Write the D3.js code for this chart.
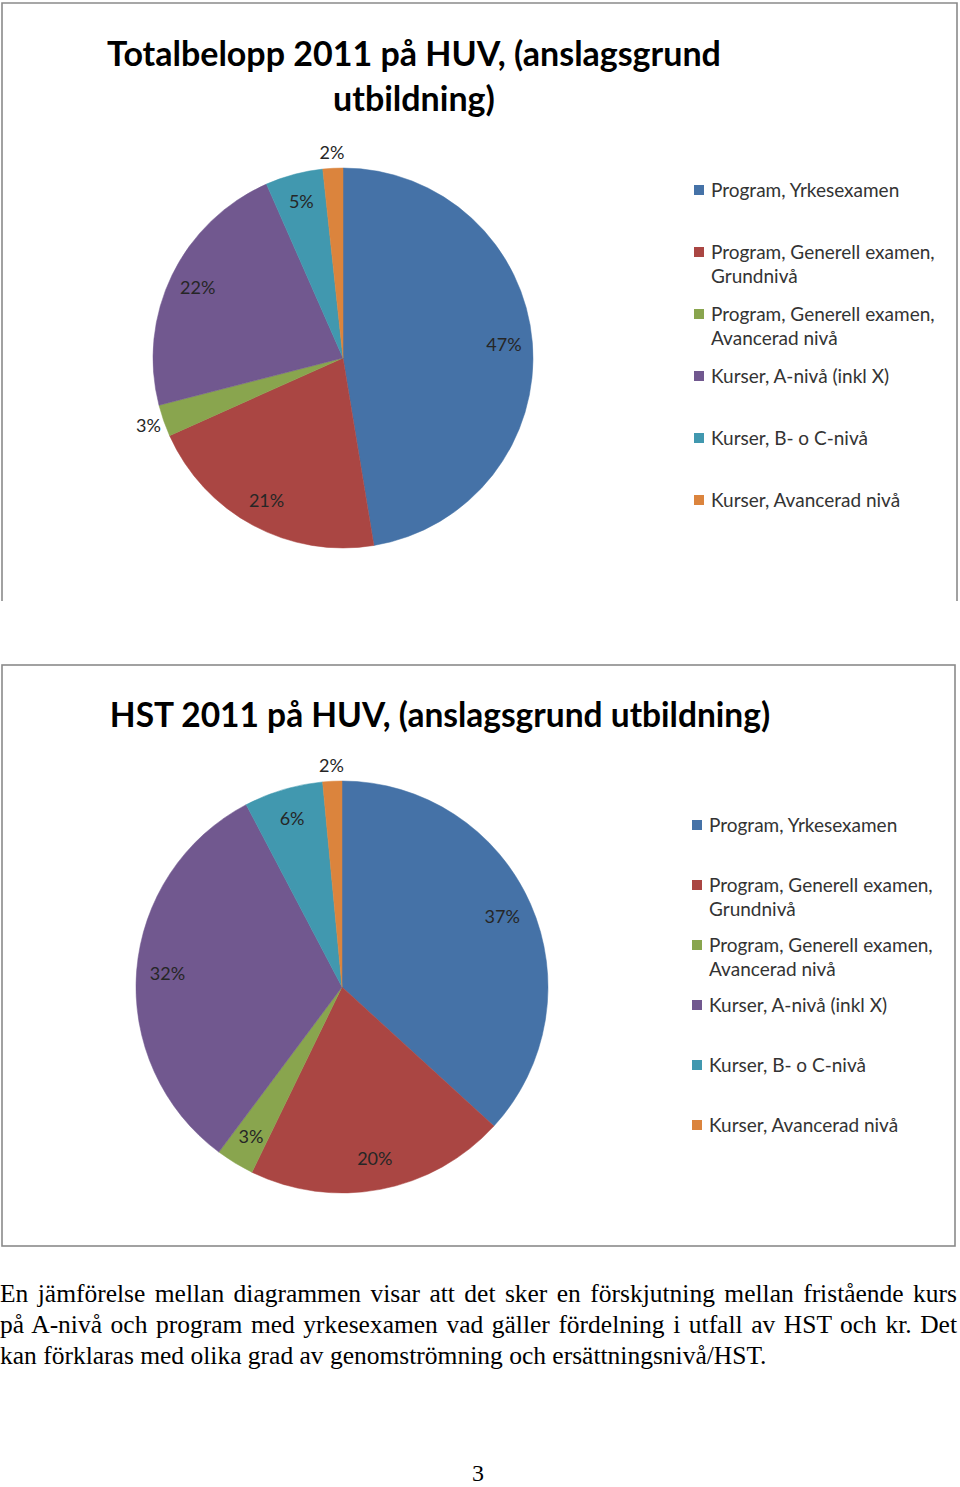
<!DOCTYPE html>
<html>
<head>
<meta charset="utf-8">
<script src="https://cdn.jsdelivr.net/npm/d3@7"></script>
<style>
  html, body { margin: 0; padding: 0; background: #fff; }
  svg { display: block; }
</style>
</head>
<body>
<svg id="page"></svg>
<script>
// Chart data (shares in percent)
const categories = [
  'Program, Yrkesexamen',
  'Program, Generell examen, Grundnivå',
  'Program, Generell examen, Avancerad nivå',
  'Kurser, A-nivå (inkl X)',
  'Kurser, B- o C-nivå',
  'Kurser, Avancerad nivå'
];
const totalShares = [47.4, 20.9, 2.7, 22.4, 4.9, 1.7];
const hstShares = [36.8, 20.4, 3.0, 32.1, 6.2, 1.5];
const sliceColors = ['#4572A7', '#AA4643', '#89A54E', '#71588F', '#4198AF', '#DB843D'];

const paragraphLines = [
  'En jämförelse mellan diagrammen visar att det sker en förskjutning mellan fristående kurs',
  'på A-nivå och program med yrkesexamen vad gäller fördelning i utfall av HST och kr. Det',
  'kan förklaras med olika grad av genomströmning och ersättningsnivå/HST.'
];
const pageNumber = '3';

const W = 960, H = 1487;
const chartFont = 'Lato, "Open Sans", sans-serif';

const svg = d3.select('#page')
  .attr('width', W)
  .attr('height', H);

const color = d3.scaleOrdinal()
  .domain(categories)
  .range(sliceColors);

// wrap a string into lines no wider than maxWidth
function wrapLines(g, str, maxWidth, fontSize) {
  const probe = g.append('text')
    .style('font-family', chartFont)
    .style('font-size', fontSize + 'px');
  const words = str.split(' ');
  const lines = [];
  let line = [];
  words.forEach(w => {
    const test = line.concat([w]).join(' ');
    probe.text(test);
    if (probe.node().getComputedTextLength() > maxWidth && line.length) {
      lines.push(line.join(' '));
      line = [w];
    } else {
      line.push(w);
    }
  });
  lines.push(line.join(' '));
  probe.remove();
  return lines;
}

function drawPie(cfg) {
  const g = svg.append('g');

  // frame
  if (cfg.openBottom) {
    g.append('path')
      .attr('d', `M${cfg.box.x},${cfg.box.y + cfg.box.h} V${cfg.box.y} H${cfg.box.x + cfg.box.w} V${cfg.box.y + cfg.box.h}`)
      .attr('fill', 'none')
      .attr('stroke', '#8a8a8a')
      .attr('stroke-width', 1.6);
  } else {
    g.append('rect')
      .attr('x', cfg.box.x)
      .attr('y', cfg.box.y)
      .attr('width', cfg.box.w)
      .attr('height', cfg.box.h)
      .attr('fill', 'none')
      .attr('stroke', '#8a8a8a')
      .attr('stroke-width', 1.6);
  }

  // title
  const title = g.append('text')
    .attr('text-anchor', 'middle')
    .style('font-family', chartFont)
    .style('font-weight', 700)
    .style('font-size', cfg.titleSize + 'px')
    .attr('fill', '#000');
  cfg.title.forEach((t, i) => {
    title.append('tspan')
      .attr('x', cfg.titleX)
      .attr('y', cfg.titleY + i * cfg.titleStep)
      .text(t);
  });

  // pie
  const pie = d3.pie()
    .sort(null)
    .value(d => d.value);

  const data = categories.map((c, i) => ({ name: c, value: cfg.values[i] }));
  const arcs = pie(data);
  const total = d3.sum(data, d => d.value);

  const arc = d3.arc()
    .innerRadius(0)
    .outerRadius(cfg.r);

  const pieG = g.append('g')
    .attr('transform', `translate(${cfg.cx},${cfg.cy})`);

  pieG.selectAll('.slice')
    .data(arcs)
    .enter()
    .append('path')
    .attr('class', 'slice')
    .attr('d', arc)
    .attr('fill', d => color(d.data.name))
    .attr('stroke', d => color(d.data.name))
    .attr('stroke-width', 0.5);

  // data labels: inside if there is room, else just outside the rim
  const inR = cfg.r * 0.85;
  const outR = cfg.r + 16;
  pieG.selectAll('.lbl')
    .data(arcs)
    .enter()
    .append('text')
    .attr('class', 'lbl')
    .attr('transform', d => {
      const span = (d.endAngle - d.startAngle) * inR;
      const rr = span < 30 ? outR : inR;
      const a = (d.startAngle + d.endAngle) / 2;
      return `translate(${Math.sin(a) * rr},${-Math.cos(a) * rr})`;
    })
    .attr('text-anchor', 'middle')
    .attr('dy', '0.35em')
    .style('font-family', chartFont)
    .style('font-size', '18px')
    .attr('fill', '#262626')
    .text(d => Math.round(d.data.value / total * 100) + '%');

  // legend
  const leg = g.append('g')
    .attr('transform', `translate(${cfg.legX},${cfg.legY})`);

  categories.forEach((c, i) => {
    const item = leg.append('g')
      .attr('transform', `translate(0,${i * cfg.legStep})`);
    item.append('rect')
      .attr('x', 0)
      .attr('y', -5)
      .attr('width', 10)
      .attr('height', 10)
      .attr('fill', color(c));
    const lines = wrapLines(item, c, 240, 19);
    lines.forEach((ln, j) => {
      item.append('text')
        .attr('x', 17)
        .attr('y', j * 24)
        .attr('dy', '0.35em')
        .style('font-family', chartFont)
        .style('font-size', '19px')
        .attr('fill', '#333')
        .text(ln);
    });
  });
}

drawPie({
  box: { x: 2, y: 3, w: 955, h: 598 },
  openBottom: true,
  title: ['Totalbelopp 2011 på HUV, (anslagsgrund', 'utbildning)'],
  titleX: 414, titleY: 66, titleStep: 45, titleSize: 34,
  values: totalShares,
  cx: 343, cy: 358, r: 190,
  legX: 694, legY: 190, legStep: 62
});

drawPie({
  box: { x: 2, y: 665, w: 953, h: 581 },
  openBottom: false,
  title: ['HST 2011 på HUV, (anslagsgrund utbildning)'],
  titleX: 440, titleY: 727, titleStep: 0, titleSize: 33.5,
  values: hstShares,
  cx: 342, cy: 987, r: 206,
  legX: 692, legY: 825, legStep: 60
});

// paragraph text, justified lines
const para = svg.append('g')
  .style('font-family', '"Liberation Serif", "DejaVu Serif", serif')
  .style('font-size', '25.5px')
  .attr('fill', '#000');

paragraphLines.forEach((ln, i) => {
  const t = para.append('text')
    .attr('x', 0)
    .attr('y', 1302 + i * 31)
    .text(ln);
  if (i < paragraphLines.length - 1) {
    const natural = t.node().getComputedTextLength();
    const spaces = ln.split(' ').length - 1;
    t.attr('word-spacing', ((957 - natural) / spaces) + 'px');
  }
});

svg.append('text')
  .attr('x', 478)
  .attr('y', 1481)
  .attr('text-anchor', 'middle')
  .style('font-family', '"Liberation Serif", serif')
  .style('font-size', '24px')
  .text(pageNumber);
</script>
</body>
</html>
